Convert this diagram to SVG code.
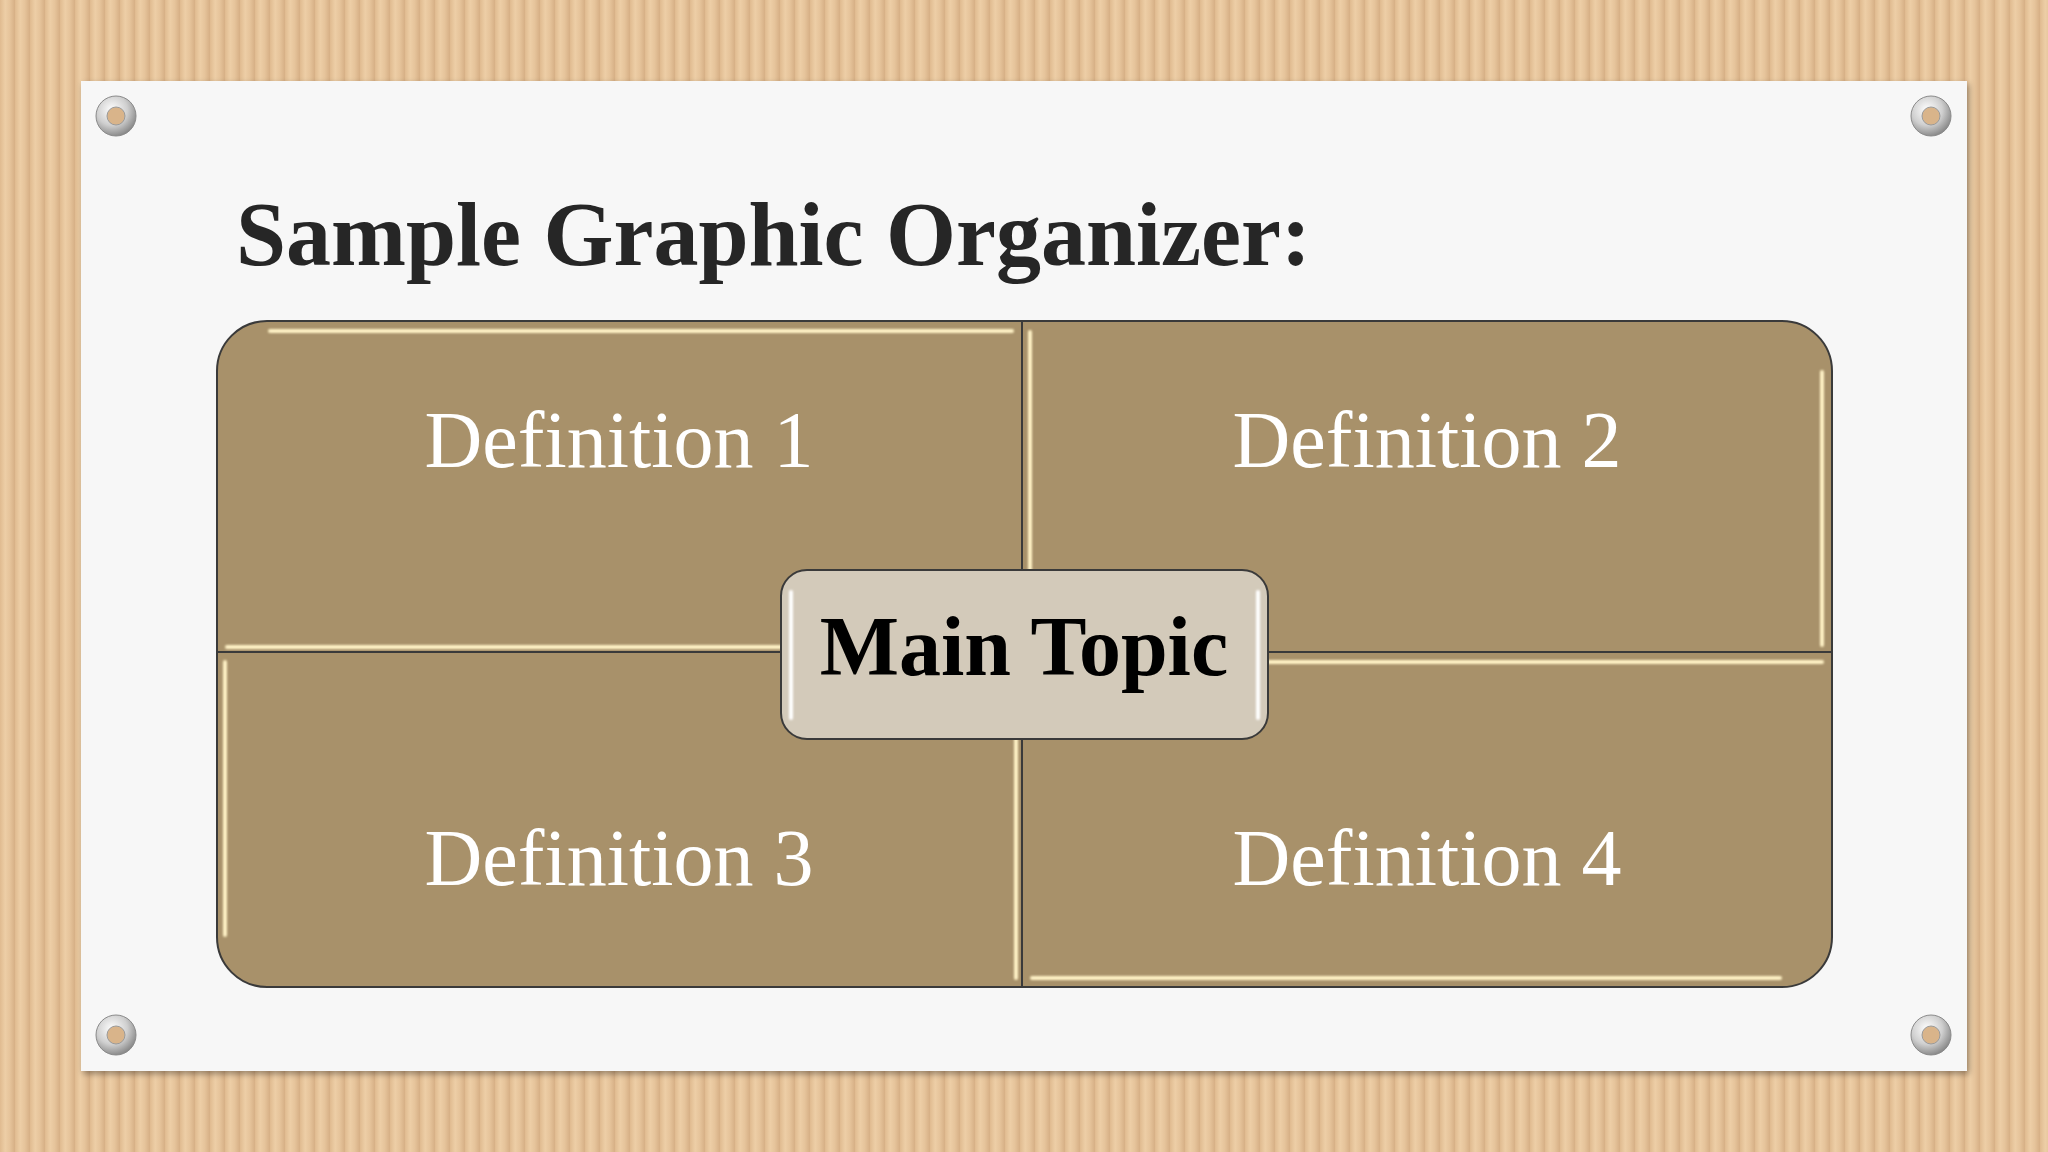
<svg xmlns="http://www.w3.org/2000/svg" width="2048" height="1152" viewBox="0 0 2048 1152">
<defs>
<linearGradient id="stripe" x1="0" y1="0" x2="1" y2="0">
<stop offset="0" stop-color="#E0BB90"/>
<stop offset="0.35" stop-color="#EDCEA6"/>
<stop offset="0.65" stop-color="#E6C49B"/>
<stop offset="1" stop-color="#D6AF85"/>
</linearGradient>
<pattern id="card" x="0" y="0" width="15" height="20" patternUnits="userSpaceOnUse">
<rect width="15" height="20" fill="url(#stripe)"/>
</pattern>
<radialGradient id="ring" cx="0.4" cy="0.35" r="0.7">
<stop offset="0" stop-color="#FFFFFF"/>
<stop offset="0.55" stop-color="#CFCFCF"/>
<stop offset="1" stop-color="#808080"/>
</radialGradient>
<filter id="shadow" x="-5%" y="-5%" width="110%" height="110%">
<feGaussianBlur in="SourceAlpha" stdDeviation="3"/>
<feOffset dx="2" dy="3"/>
<feComponentTransfer><feFuncA type="linear" slope="0.35"/></feComponentTransfer>
<feMerge><feMergeNode/><feMergeNode in="SourceGraphic"/></feMerge>
</filter>
<filter id="soft" filterUnits="userSpaceOnUse" x="0" y="0" width="2048" height="1152"><feGaussianBlur stdDeviation="0.8"/></filter>
</defs>
<style>
.quad{fill:#A8916A;stroke:#3A3A3A;stroke-width:2}
.hl{stroke:#FFF2C6;stroke-width:4;stroke-linecap:round;fill:none;filter:url(#soft)}
.hlw{stroke:#FFFFFF;stroke-width:4;stroke-linecap:round;fill:none;filter:url(#soft)}
.def{font-family:"Liberation Serif","Times New Roman",serif;font-size:80px;fill:#FFFFFF;text-anchor:middle}
.title{font-family:"Liberation Serif","Times New Roman",serif;font-size:90px;font-weight:bold;fill:#262626}
.main{font-family:"Liberation Serif","Times New Roman",serif;font-size:84px;font-weight:bold;fill:#000000;text-anchor:middle}
.hole{fill:#D9B48A;stroke:#9A9A9A;stroke-width:1}
.screw{fill:url(#ring);stroke:#8A8A8A;stroke-width:1}
</style>
<rect x="0" y="0" width="2048" height="1152" fill="url(#card)"/>
<rect x="81" y="81" width="1886" height="990" fill="#F7F7F7" filter="url(#shadow)"/>
<g id="screws">
<circle class="screw" cx="116" cy="116" r="20"/><circle class="hole" cx="116" cy="116" r="9"/>
<circle class="screw" cx="1931" cy="116" r="20"/><circle class="hole" cx="1931" cy="116" r="9"/>
<circle class="screw" cx="116" cy="1035" r="20"/><circle class="hole" cx="116" cy="1035" r="9"/>
<circle class="screw" cx="1931" cy="1035" r="20"/><circle class="hole" cx="1931" cy="1035" r="9"/>
</g>
<text class="title" x="236" y="265">Sample Graphic Organizer:</text>
<g id="def1">
<path class="quad" d="M267,321 H1022 V652 H217 V371 A50,50 0 0 1 267,321 Z"/>
<line class="hl" x1="270" y1="331" x2="1012" y2="331"/>
<line class="hl" x1="227" y1="647" x2="1012" y2="647"/>
<text class="def" x="619" y="467">Definition 1</text>
</g>
<g id="def2">
<path class="quad" d="M1022,321 H1782 A50,50 0 0 1 1832,371 V652 H1022 Z"/>
<line class="hl" x1="1030" y1="332" x2="1030" y2="645"/>
<line class="hl" x1="1822" y1="372" x2="1822" y2="645"/>
<text class="def" x="1427" y="467">Definition 2</text>
</g>
<g id="def3">
<path class="quad" d="M217,652 H1022 V987 H267 A50,50 0 0 1 217,937 Z"/>
<line class="hl" x1="225" y1="662" x2="225" y2="935"/>
<line class="hl" x1="1016" y1="662" x2="1016" y2="978"/>
<text class="def" x="619" y="885">Definition 3</text>
</g>
<g id="def4">
<path class="quad" d="M1022,652 H1832 V937 A50,50 0 0 1 1782,987 H1022 Z"/>
<line class="hl" x1="1032" y1="662" x2="1822" y2="662"/>
<line class="hl" x1="1032" y1="978" x2="1780" y2="978"/>
<text class="def" x="1427" y="885">Definition 4</text>
</g>
<g id="connectors"></g>
<g id="main-topic">
<rect x="781" y="570" width="487" height="169" rx="26" ry="26" fill="#D3CABA" stroke="#3A3A3A" stroke-width="2"/>
<line class="hlw" x1="791" y1="592" x2="791" y2="718"/>
<line class="hlw" x1="1258" y1="592" x2="1258" y2="718"/>
<text class="main" x="1024" y="675">Main Topic</text>
</g>
</svg>
